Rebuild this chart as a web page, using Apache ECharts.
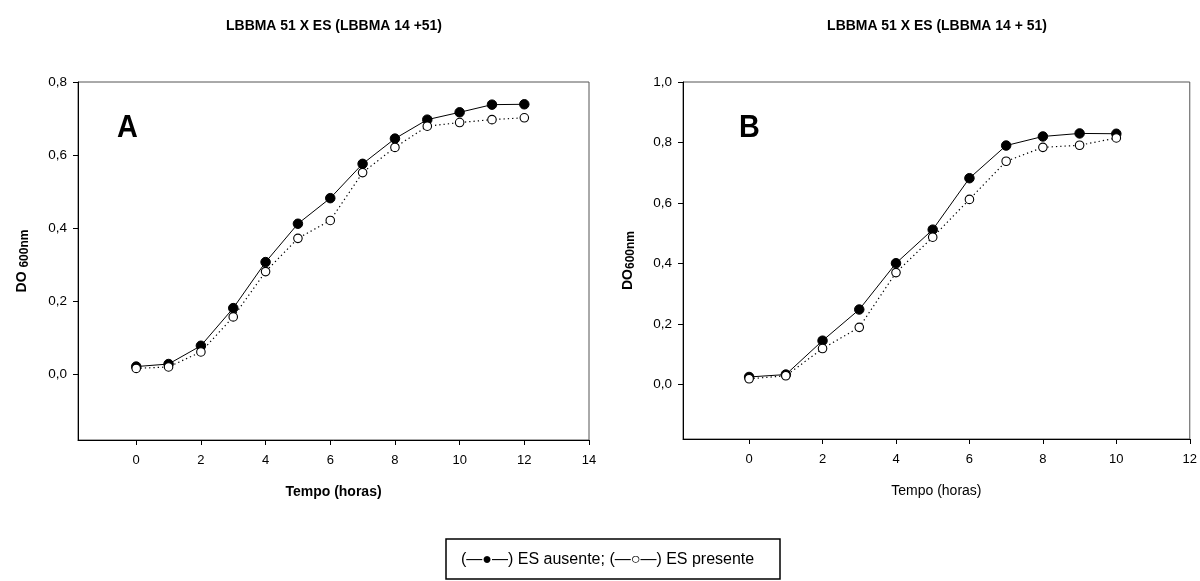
<!DOCTYPE html>
<html>
<head>
<meta charset="utf-8">
<script src="https://cdn.jsdelivr.net/npm/echarts@6/dist/echarts.min.js"></script>
<style>
html,body{margin:0;padding:0;background:#fff;}
#c{width:1200px;height:581px;}
</style>
</head>
<body>
<div id="c"></div>
<script>
// ---- data ----
const titleA = 'LBBMA 51 X ES (LBBMA 14 +51)';
const titleB = 'LBBMA 51 X ES (LBBMA 14 + 51)';
const seriesNames = ['ES ausente', 'ES presente'];
const hoursA = [0, 1, 2, 3, 4, 5, 6, 7, 8, 9, 10, 11, 12];
const ausenteA = [0.021, 0.028, 0.078, 0.181, 0.307, 0.412, 0.482, 0.576, 0.645, 0.697, 0.717, 0.738, 0.739];
const presenteA = [0.016, 0.020, 0.061, 0.157, 0.281, 0.372, 0.421, 0.552, 0.621, 0.679, 0.689, 0.697, 0.702];
const hoursB = [0, 1, 2, 3, 4, 5, 6, 7, 8, 9, 10];
const ausenteB = [0.025, 0.033, 0.145, 0.248, 0.401, 0.512, 0.682, 0.790, 0.820, 0.830, 0.829];
const presenteB = [0.019, 0.029, 0.119, 0.189, 0.370, 0.487, 0.612, 0.738, 0.784, 0.791, 0.815];
const xTicksA = [0, 2, 4, 6, 8, 10, 12, 14];
const xTicksB = [0, 2, 4, 6, 8, 10, 12];
const yTicksA = [0, 0.2, 0.4, 0.6, 0.8];
const yTicksB = [0, 0.2, 0.4, 0.6, 0.8, 1.0];

const pairs = (xs, ys) => xs.map((x, i) => [x, ys[i]]);
const SANS = "'Liberation Sans', Arial, sans-serif";
const fmtY = v => v.toFixed(1).replace('.', ',');

function xAxis(grid, min, max, ticks, bold) {
  return {
    type: 'value', gridIndex: grid, min: min, max: max,
    splitLine: { show: false },
    axisLine: { show: true, onZero: false, lineStyle: { color: '#000', width: 1 } },
    axisTick: { show: true, inside: false, length: 5, customValues: ticks, lineStyle: { color: '#000' } },
    axisLabel: { customValues: ticks, color: '#000', fontSize: 13, fontFamily: SANS, margin: 14, formatter: v => String(v) },
    name: 'Tempo (horas)', nameLocation: 'middle', nameGap: 45,
    nameTextStyle: { color: '#000', fontSize: 14, fontFamily: SANS, fontWeight: bold ? 'bold' : 'normal' }
  };
}
function yAxis(grid, min, max, ticks, nameRich, gap) {
  return {
    type: 'value', gridIndex: grid, min: min, max: max,
    splitLine: { show: false },
    axisLine: { show: true, onZero: false, lineStyle: { color: '#000', width: 1 } },
    axisTick: { show: true, inside: false, length: 5, customValues: ticks, lineStyle: { color: '#000' } },
    axisLabel: { customValues: ticks, color: '#000', fontSize: 13.5, fontFamily: SANS, margin: 11, formatter: fmtY },
    name: nameRich, nameLocation: 'middle', nameRotate: 90, nameGap: gap,
    nameTextStyle: {
      color: '#000', fontFamily: SANS, fontWeight: 'bold',
      rich: {
        a: { fontSize: 14, fontWeight: 'bold', fontFamily: SANS, color: '#000', lineHeight: 16, verticalAlign: 'top' },
        b: { fontSize: 12, fontWeight: 'bold', fontFamily: SANS, color: '#000', lineHeight: 13, padding: [6, 0, 0, 0], verticalAlign: 'bottom' }
      }
    }
  };
}
function filled(name, data, xi, yi) {
  return {
    name: name, type: 'line', xAxisIndex: xi, yAxisIndex: yi, data: data,
    symbol: 'circle', symbolSize: 9.5, z: 3,
    lineStyle: { color: '#000', width: 1, type: 'solid' },
    itemStyle: { color: '#000', borderColor: '#000', borderWidth: 1 },
    emphasis: { disabled: true }, animation: false
  };
}
function open(name, data, xi, yi) {
  return {
    name: name, type: 'line', xAxisIndex: xi, yAxisIndex: yi, data: data,
    symbol: 'circle', symbolSize: 8.5, z: 4,
    lineStyle: { color: '#000', width: 1.2, type: [1.3, 3] },
    itemStyle: { color: '#fff', borderColor: '#000', borderWidth: 1.1 },
    emphasis: { disabled: true }, animation: false
  };
}
function condensed(text, x, y, size, sx) {
  return { type: 'text', x: x, y: y, scaleX: sx, z: 10,
    style: { text: text, fontFamily: SANS, fontWeight: 'bold', fontSize: size, fill: '#000', align: 'center', verticalAlign: 'middle' } };
}

const chart = echarts.init(document.getElementById('c'), null, { renderer: 'canvas' });
chart.setOption({
  backgroundColor: '#fff',
  animation: false,
  grid: [
    { left: 78, top: 82, width: 511, height: 358, show: true, borderColor: '#555', borderWidth: 1, backgroundColor: 'transparent' },
    { left: 683, top: 82, width: 507, height: 357, show: true, borderColor: '#555', borderWidth: 1, backgroundColor: 'transparent' }
  ],
  xAxis: [
    xAxis(0, -1.8, 14, xTicksA, true),
    xAxis(1, -1.8, 12, xTicksB, false)
  ],
  yAxis: [
    yAxis(0, -0.18, 0.8, yTicksA, '{a|DO }{b|600nm}', 47),
    yAxis(1, -0.18, 1.0, yTicksB, '{a|DO}{b|600nm}', 46)
  ],
  series: [
    filled(seriesNames[0], pairs(hoursA, ausenteA), 0, 0),
    open(seriesNames[1], pairs(hoursA, presenteA), 0, 0),
    filled(seriesNames[0], pairs(hoursB, ausenteB), 1, 1),
    open(seriesNames[1], pairs(hoursB, presenteB), 1, 1)
  ],
  graphic: [
    condensed(titleA, 334, 26, 15.5, 0.9),
    condensed(titleB, 937, 26, 15.5, 0.9),
    condensed('A', 127.5, 128, 32, 0.9),
    condensed('B', 749.5, 128, 32, 0.9),
    { type: 'rect', shape: { x: 446, y: 539, width: 334, height: 40 },
      style: { fill: 'none', stroke: '#000', lineWidth: 1.5 } },
    { type: 'text', x: 461, y: 560,
      style: { text: '(—●—) ' + seriesNames[0] + '; (—○—) ' + seriesNames[1],
        fontFamily: SANS, fontSize: 16, fill: '#000', align: 'left', verticalAlign: 'middle' } }
  ]
});
</script>
</body>
</html>
